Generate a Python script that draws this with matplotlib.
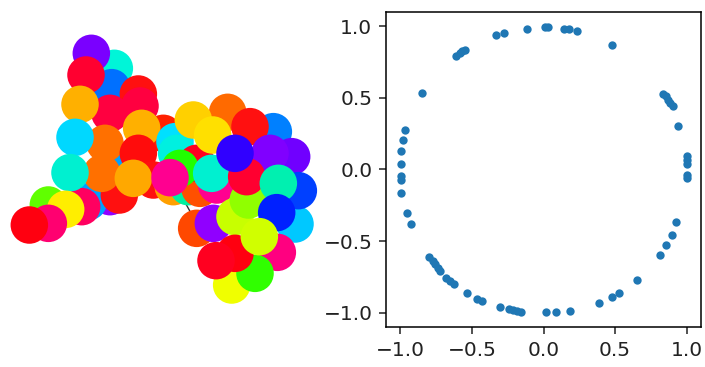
import matplotlib as mpl
mpl.use('Agg')
import matplotlib.pyplot as plt

# left graph, nodes in back to front order
node_x = [343, 274, 335, 258, 415, 420, 330, 240, 490, 425, 330, 265, 358, 245, 350, 315, 305, 225, 210,
          145, 197, 145, 88, 525, 530, 415, 460, 400, 520, 565, 600, 590, 540, 510, 650, 635,
          683, 820, 750, 580, 638, 875, 810, 885, 895, 590, 640, 705, 745, 740, 705, 835, 830,
          832, 695, 765, 705, 778, 648]
node_y = [145, 100, 203, 165, 222, 258, 280, 253, 340, 325, 530, 545, 525, 560, 425, 370, 460, 352, 458,
          555, 568, 610, 615, 365, 400, 400, 480, 475, 500, 500, 505, 430, 445, 473, 495, 460,
          277, 335, 320, 300, 345, 410, 400, 612, 512, 625, 610, 590, 540, 470, 400, 490, 578,
          697, 795, 760, 700, 650, 722]
node_colors = ['#00f5d8', '#7a00ff', '#0070ff', '#ff0030', '#ff1010', '#ff0040', '#ff0040', '#ffb000',
               '#ff2000', '#ffb000', '#9000ff', '#00a0ff', '#ff1010', '#ff0060', '#00a0ff', '#ff7000',
               '#ff7000', '#00d8ff', '#00f0d0', '#60ff00', '#ffee00', '#ff0070', '#ff0010', '#00e0ff',
               '#00f0e0', '#ff0c0c', '#ff1010', '#ffa800', '#ffa000', '#00f0a0', '#ff5000', '#ff0020',
               '#20ff00', '#ff0090', '#ff0090', '#00f0d0', '#ff6a00', '#0080ff', '#ff1010', '#ffd000',
               '#ffe000', '#7000ff', '#8000ff', '#00c8ff', '#0040ff', '#ff4800', '#9000ff', '#c8ff00',
               '#90ff00', '#ff0030', '#3000ff', '#00f0b0', '#0020ff', '#ff0080', '#f0ff00', '#30ff00',
               '#ff0010', '#d0ff00', '#ff0020']
edge_x = [540, 590]
edge_y = [520, 610]

# right scatter, points on the unit circle
circle_x = [-0.61, -0.586, -0.566, -0.545, -0.333, -0.274, -0.113, 0.013, 0.032, 0.146, 0.176, 0.235,
            0.48, -0.851, 0.837, 0.853, 0.87, 0.883, 0.902, 0.942, 1.0, 1.0, 1.0, 1.0, 1.0,
            -0.967, -0.981, -0.998, -0.998, -0.998, -0.998, -0.998, -0.953, -0.925, 0.928, 0.897,
            0.855, 0.811, 0.652, 0.524, 0.48, 0.391, 0.188, 0.09, 0.015, -0.155, -0.186, -0.214,
            -0.244, -0.302, -0.431, -0.461, -0.536, -0.622, -0.652, -0.68, -0.722, -0.739, -0.757,
            -0.773, -0.797]
circle_y = [0.79, 0.813, 0.827, 0.834, 0.937, 0.953, 0.981, 0.995, 0.995, 0.981, 0.981, 0.967,
            0.867, 0.533, 0.529, 0.51, 0.484, 0.463, 0.445, 0.302, 0.097, 0.067, 0.039, -0.036, -0.057,
            0.274, 0.209, 0.127, 0.041, -0.046, -0.074, -0.162, -0.305, -0.382, -0.365, -0.454,
            -0.526, -0.599, -0.771, -0.86, -0.888, -0.932, -0.991, -0.995, -0.995, -0.995, -0.991, -0.979,
            -0.972, -0.96, -0.916, -0.904, -0.86, -0.799, -0.778, -0.757, -0.708, -0.685, -0.662,
            -0.639, -0.61]
tick_vals = [-1.0, -0.5, 0.0, 0.5, 1.0]

W, H = 705, 367
fig = plt.figure(figsize=(W / 100, H / 100), dpi=100)

ax1 = fig.add_axes([0, 0, 340 / W, 1])
ax1.set_xlim(0, 1020)
ax1.set_ylim(1041, -60)
ax1.axis('off')
ax1.plot(edge_x, edge_y, color='#333333', lw=1.0, zorder=1)
ax1.scatter(node_x, node_y, s=730, c=node_colors, linewidths=0, zorder=2)

ax2 = fig.add_axes([386 / W, 1 - 327 / H, 315 / W, 315 / H])
ax2.scatter(circle_x, circle_y, s=36, color='#1f77b4', linewidths=0)
ax2.set_xlim(-1.1, 1.1)
ax2.set_ylim(-1.1, 1.1)
ax2.set_xticks(tick_vals)
ax2.set_yticks(tick_vals)
ax2.tick_params(labelsize=14.5, length=4.8, width=1.1, pad=5, colors='#222222')
for s in ax2.spines.values():
    s.set_linewidth(1.1)

fig.savefig('out.png', dpi=100)
